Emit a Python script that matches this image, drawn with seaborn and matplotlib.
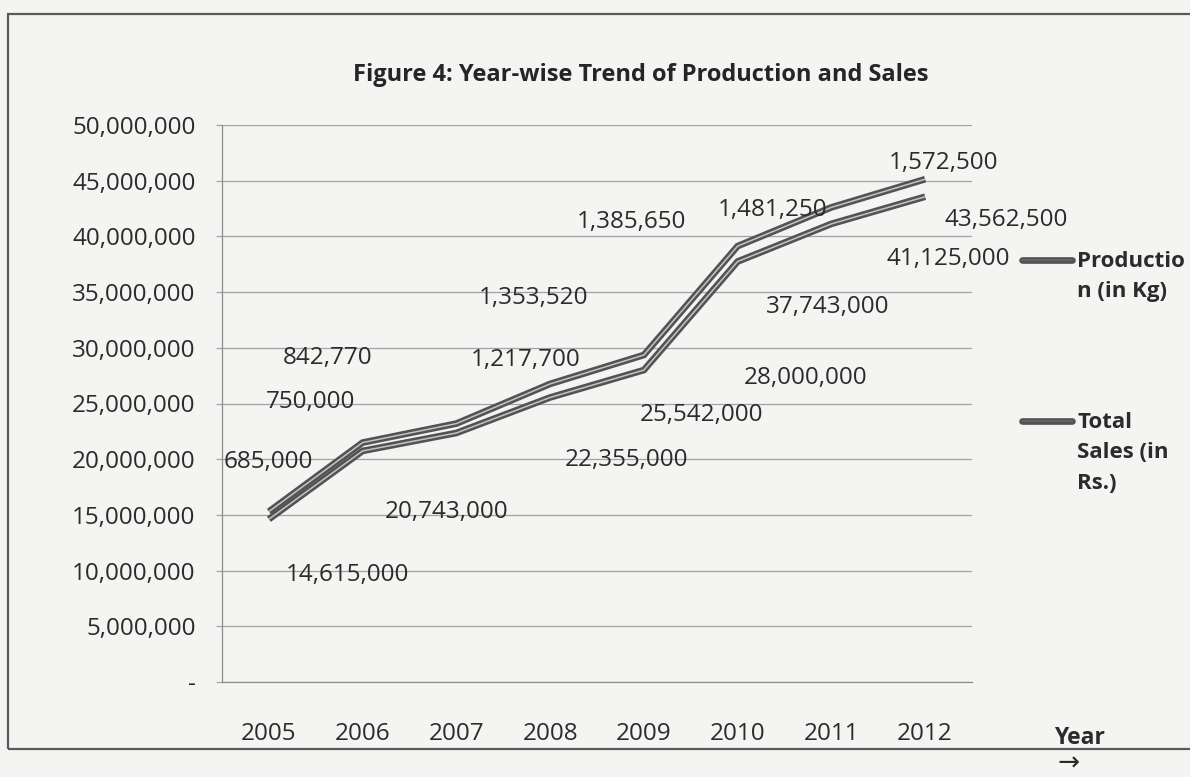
import matplotlib
matplotlib.use("Agg")
import matplotlib.pyplot as plt
import matplotlib.patheffects as pe
from matplotlib.lines import Line2D
from matplotlib.patches import Rectangle
from matplotlib.ticker import FuncFormatter, FixedLocator
import numpy as np
import pandas as pd
import seaborn as sns

# ---- data ----
years = ["2005", "2006", "2007", "2008", "2009", "2010", "2011", "2012"]
production_kg = [685000, 750000, 842770, 1217700, 1353520, 1385650, 1481250, 1572500]
sales_rs = [14615000, 20743000, 22355000, 25542000, 28000000, 37743000, 41125000, 43562500]
series_names = ["Productio\nn (in Kg)", "Total\nSales (in\nRs.)"]
y_ticks = [0, 5000000, 10000000, 15000000, 20000000, 25000000,
           30000000, 35000000, 40000000, 45000000, 50000000]

# label placement (offsets in pixels from each point)
prod_offsets = [(-1, 50), (-52, 41), (-129, 66), (-24, 24), (-110, 57), (-106, 24), (-59, -3), (18, 16)]
sales_offsets = [(79, -56), (84, -61), (170, -27), (151, -18), (162, -8), (90, -45), (117, -35), (81, -23)]

# stacked line: production sits on top of sales
stacked_top = [s + p for s, p in zip(sales_rs, production_kg)]
df = pd.DataFrame({
    "year": years * 2,
    "value": sales_rs + stacked_top,
    "series": ["sales"] * len(years) + ["production"] * len(years),
})

W, H = 1190, 777
paper = "#f4f4f2"
text_c = "#2b2b2b"
grid_c = "#a3a3a3"
fs = 17.5

sns.set_theme(style="white")
plt.rcParams["font.family"] = ["Open Sans", "DejaVu Sans"]

fig = plt.figure(figsize=(W / 100, H / 100), dpi=100, facecolor=paper)
ax = fig.add_axes([222 / W, 1 - 682 / H, 750 / W, 557 / H])
ax.set_facecolor("none")

line_fx = [pe.Stroke(linewidth=4.8, foreground="#535353"),
           pe.Normal()]
sns.lineplot(data=df, x="year", y="value", hue="series",
             palette={"sales": "#c4c4c2", "production": "#c4c4c2"},
             linewidth=1.1, sort=False, legend=False, ax=ax)
for ln in ax.lines:
    ln.set_path_effects(line_fx)
    ln.set_solid_capstyle("butt")
    ln.set_solid_joinstyle("miter")

# axes
ax.set_xlim(-0.5, len(years) - 0.5)
ax.set_ylim(0, 50000000)
ax.yaxis.set_major_locator(FixedLocator(y_ticks))
ax.yaxis.set_major_formatter(FuncFormatter(lambda v, _: "-" if v == 0 else f"{v:,.0f}"))
ax.grid(axis="y", color=grid_c, linewidth=0.9)
ax.grid(axis="x", visible=False)
for side in ["top", "right"]:
    ax.spines[side].set_visible(False)
for side in ["left", "bottom"]:
    ax.spines[side].set_color("#8c8c8c")
    ax.spines[side].set_linewidth(0.9)

ax.set_xticks(range(len(years)))
ax.set_xticklabels(years)
ax.set_xticks(np.arange(-0.5, len(years)), minor=True)
ax.tick_params(axis="x", which="major", length=0, pad=29, labelsize=fs, colors=text_c)
ax.tick_params(axis="x", which="minor", length=5, width=0.9, color="#8c8c8c", direction="out")
ax.tick_params(axis="y", length=4, width=0.9, color=grid_c, pad=15, labelsize=fs,
               colors=text_c, left=True)
ax.set_xlabel("")
ax.set_ylabel("")

# data labels
for i, (v, off) in enumerate(zip(production_kg, prod_offsets)):
    ax.annotate(f"{v:,}", xy=(i, stacked_top[i]), xytext=off, textcoords="offset pixels",
                ha="center", va="center", fontsize=fs, color=text_c)
for i, (v, off) in enumerate(zip(sales_rs, sales_offsets)):
    ax.annotate(f"{v:,}", xy=(i, v), xytext=off, textcoords="offset pixels",
                ha="center", va="center", fontsize=fs, color=text_c)

# title
fig.text(641 / W, 1 - 75 / H, "Figure 4: Year-wise Trend of Production and Sales",
         ha="center", va="center", fontsize=17, fontweight="bold", color="#252525")

# legend (handle aligned with the first text line)
for name, ly in zip(series_names, [260, 421]):
    fig.add_artist(Line2D([1022 / W, 1072 / W], [1 - ly / H, 1 - ly / H],
                          transform=fig.transFigure, color="#6a6a6a", linewidth=1.1,
                          path_effects=line_fx))
    fig.text(1077 / W, 1 - (ly - 9) / H, name, ha="left", va="top", fontsize=16,
             fontweight="bold", color=text_c, linespacing=1.58)

# axis caption
fig.text(1079 / W, 1 - 738 / H, "Year", ha="center", va="center", fontsize=16.5,
         fontweight="bold", color=text_c)
fig.text(1069 / W, 1 - 764 / H, "\u2192", ha="center", va="center", fontsize=19,
         color=text_c, family=["DejaVu Sans"])

# chart frame
fig.add_artist(Rectangle((8 / W, 1 - 749 / H), 1.2, (749 - 14) / H, transform=fig.transFigure,
                         fill=False, edgecolor="#5a5a5a", linewidth=1.6, clip_on=False))

fig.savefig("out.png", dpi=100, facecolor=paper)
